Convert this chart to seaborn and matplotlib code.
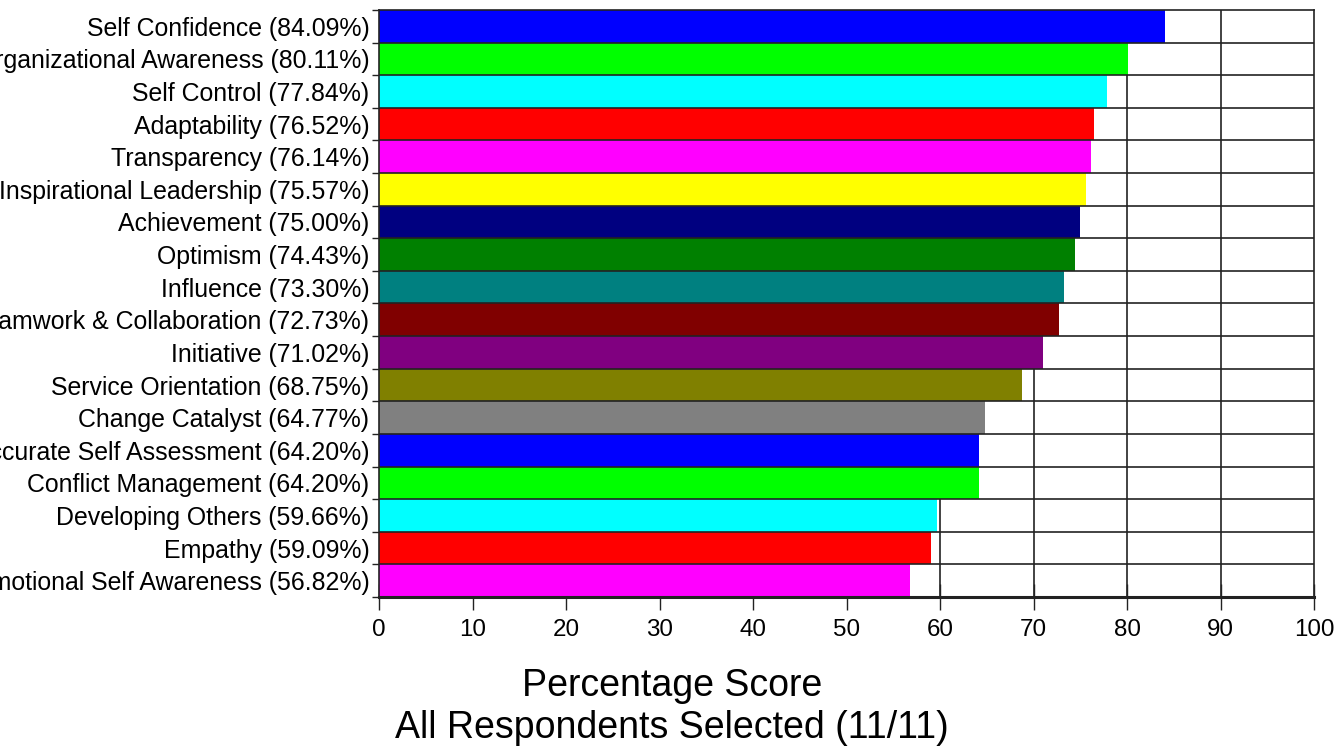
import matplotlib
matplotlib.use("Agg")
import matplotlib.pyplot as plt
import seaborn as sns
import pandas as pd
import numpy as np

competencies = [
    "Self Confidence", "Organizational Awareness", "Self Control", "Adaptability",
    "Transparency", "Inspirational Leadership", "Achievement", "Optimism",
    "Influence", "Teamwork & Collaboration", "Initiative", "Service Orientation",
    "Change Catalyst", "Accurate Self Assessment", "Conflict Management",
    "Developing Others", "Empathy", "Emotional Self Awareness",
]
scores = [84.09, 80.11, 77.84, 76.52, 76.14, 75.57, 75.00, 74.43, 73.30,
          72.73, 71.02, 68.75, 64.77, 64.20, 64.20, 59.66, 59.09, 56.82]
bar_colors = [
    "#0000FF", "#00FF00", "#00FFFF", "#FF0000", "#FF00FF", "#FFFF00",
    "#000080", "#008000", "#008080", "#800000", "#800080", "#808000",
    "#808080", "#0000FF", "#00FF00", "#00FFFF", "#FF0000", "#FF00FF",
]
x_ticks = [0, 10, 20, 30, 40, 50, 60, 70, 80, 90, 100]

labels = [f"{n} ({v:.2f}%)" for n, v in zip(competencies, scores)]
df = pd.DataFrame({"label": labels, "score": scores})

sns.set_theme(style="white")
plt.rcParams["font.family"] = ["Liberation Sans", "DejaVu Sans"]

fig = plt.figure(figsize=(13.44, 7.47), dpi=100)
ax = fig.add_axes([379 / 1344, 1 - 597 / 747, (1314 - 379) / 1344, (597 - 10) / 747])

sns.barplot(data=df, x="score", y="label", hue="label", palette=bar_colors,
            orient="h", width=1.0, legend=False, saturation=1, ax=ax,
            linewidth=0, zorder=2)

n = len(labels)
ax.set_xlim(0, 100)
ax.set_ylim(n - 0.5, -0.5)

# vertical grid behind bars
for xv in x_ticks[1:-1]:
    ax.axvline(xv, color="#222222", lw=1.2, zorder=1)
# row separators over bars
for yb in np.arange(0.5, n - 0.5, 1.0):
    ax.axhline(yb, color="#222222", lw=1.2, zorder=3)

ax.set_xticks(x_ticks)
ax.set_xticklabels([str(t) for t in x_ticks])
ax.tick_params(axis="x", direction="inout", length=19, width=1, color="#222222",
               labelsize=17.4, pad=6, bottom=True)
ax.set_yticks(range(n))
ax.set_yticklabels(labels)
ax.tick_params(axis="y", length=0, labelsize=17.9, pad=7, left=True)
ax.set_yticks(np.arange(-0.5, n, 1.0), minor=True)
ax.tick_params(axis="y", which="minor", direction="out", length=5, width=1,
               color="#222222", left=True)
for tl in ax.get_xticklabels() + ax.get_yticklabels():
    tl.set_color("black")

ax.set_xlabel("")
ax.set_ylabel("")
for side, sp in ax.spines.items():
    sp.set_visible(True)
    sp.set_color("#222222")
    sp.set_linewidth(1.2)
    sp.set_zorder(4)
ax.spines["bottom"].set_linewidth(2.2)

fig.text(0.5, 1 - 686 / 747, "Percentage Score", ha="center", va="center",
         fontsize=27, color="black")
fig.text(0.5, 1 - 728 / 747, "All Respondents Selected (11/11)", ha="center",
         va="center", fontsize=27, color="black")

fig.savefig("out.png", dpi=100, facecolor="white")
